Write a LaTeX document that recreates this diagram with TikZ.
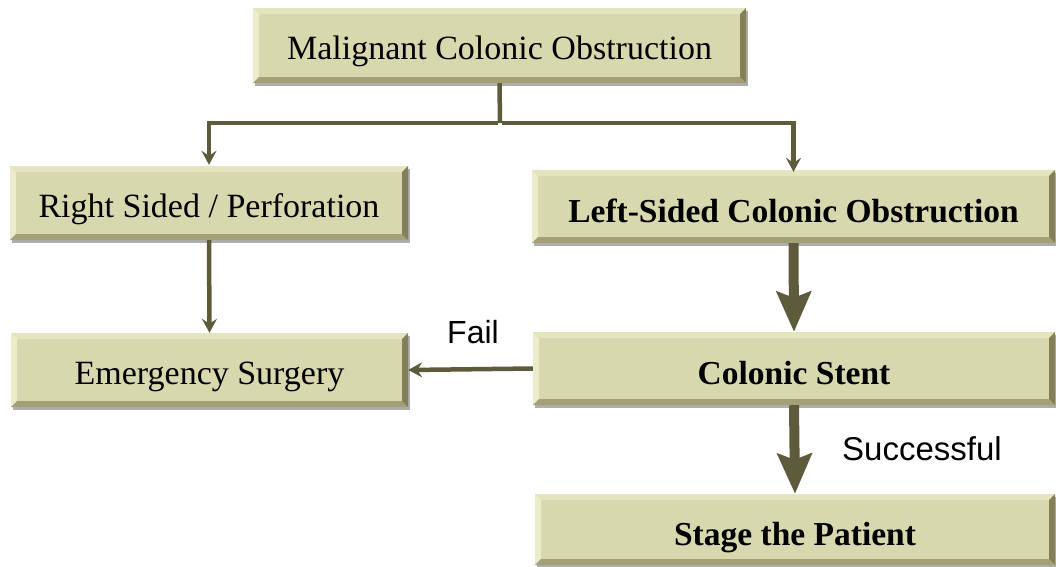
\documentclass[tikz,border=0pt]{standalone}
\usepackage{fontspec}
\setmainfont{Liberation Serif}
\setsansfont{Liberation Sans}
\usetikzlibrary{arrows.meta,shadows}
\definecolor{boxfill}{HTML}{D8D8AF}
\definecolor{bevlight}{HTML}{ECECCB}
\definecolor{bevtop}{HTML}{E4E4BF}
\definecolor{bevdark}{HTML}{A3A077}
\definecolor{bevright}{HTML}{857F57}
\definecolor{linec}{HTML}{5E5A3C}
\tikzset{
  bx/.style={minimum width=#1, inner sep=0pt, fill=boxfill,
    font=\fontsize{34}{40}\selectfont, text height=28.5pt, text depth=0pt,
    drop shadow={shadow xshift=2pt, shadow yshift=-2.5pt, opacity=0.45, fill=black!70},
    path picture={
      \fill[bevtop] (path picture bounding box.north west) -- (path picture bounding box.north east)
        -- ++(-6pt,-6pt) -- ([shift={(6pt,-6pt)}]path picture bounding box.north west) -- cycle;
      \fill[bevlight] (path picture bounding box.north west) -- (path picture bounding box.south west)
        -- ++(6pt,6pt) -- ([shift={(6pt,-6pt)}]path picture bounding box.north west) -- cycle;
      \fill[bevdark] (path picture bounding box.south west) -- (path picture bounding box.south east)
        -- ++(-6pt,6pt) -- ([shift={(6pt,6pt)}]path picture bounding box.south west) -- cycle;
      \fill[bevright] (path picture bounding box.north east) -- (path picture bounding box.south east)
        -- ++(-6pt,6pt) -- ([shift={(-6pt,-6pt)}]path picture bounding box.north east) -- cycle;
    }},
  bxh/.style={minimum height=#1},
  bb/.style={font=\fontsize{33.5}{40}\selectfont\bfseries, text height=31pt},
  thin/.style={draw=linec, line width=4.5pt, -{Stealth[length=14pt, width=15pt, inset=5pt]}},
  thick/.style={draw=linec, line width=10pt, -{Stealth[length=40pt, width=34pt, inset=6pt]}},
  lbl/.style={font=\sffamily\fontsize{32}{36}\selectfont, inner sep=0pt},
}
\begin{document}
\begin{tikzpicture}[x=1pt, y=-1pt]
\useasboundingbox (0,0) rectangle (1056,566);
\node[bx=493pt, bxh=75pt] (top) at (499.5,45.5) {Malignant Colonic Obstruction};
\node[bx=398pt, bxh=74pt] (rs) at (209,203) {Right Sided / Perforation};
\node[bx=523pt, bxh=73pt, bb] (ls) at (793.5,206.5) {Left-Sided Colonic Obstruction};
\node[bx=397pt, bxh=74pt] (em) at (209.5,370) {Emergency Surgery};
\node[bx=522pt, bxh=73pt, bb] (cs) at (794,368.5) {Colonic Stent};
\node[bx=520pt, bxh=71pt, bb] (st) at (795,529.5) {Stage the Patient};
\coordinate (j) at (500,123);
\draw[draw=linec, line width=4.5pt] (top.south) -- (j);
\draw[thin] ([xshift=-2pt]j) -| ([yshift=1pt]rs.north);
\draw[thin] ([xshift=2pt]j) -| ([yshift=-2pt]ls.north);
\draw[thin] (rs.south) -- (em.north);
\draw[thick] (ls.south) -- (cs.north);
\draw[thin] (cs.west) -- (em.east);
\draw[thick] (cs.south) -- (st.north);
\node[lbl] (fail) at (473,332) {Fail};
\node[lbl, font=\sffamily\fontsize{33}{36}\selectfont] (succ) at (922,449) {Successful};
\end{tikzpicture}
\end{document}
